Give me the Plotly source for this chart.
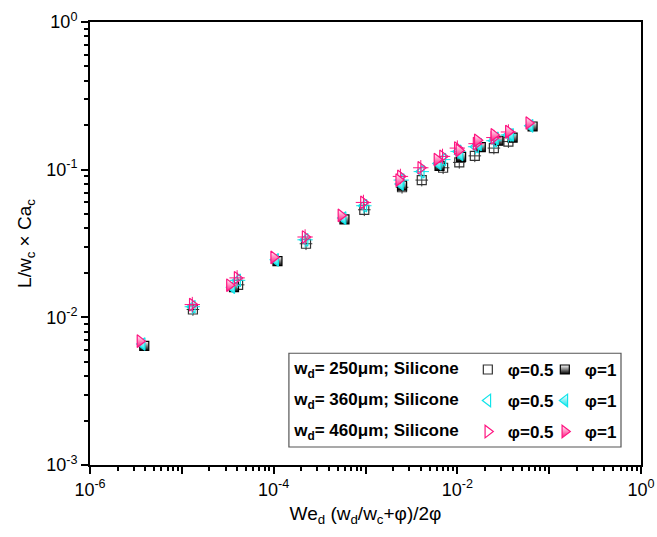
import numpy as np
import plotly.graph_objects as go

# ---------------- data ----------------
# phi = 1 series
x460_p1 = [3.5e-6, 3.3e-5, 1.0e-4, 5.4e-4, 2.3e-3, 6.0e-3, 1.04e-2, 1.65e-2, 2.5e-2, 3.6e-2, 6.0e-2]
y460_p1 = [6.9e-3, 1.65e-2, 2.55e-2, 4.9e-2, 8.5e-2, 0.117, 0.135, 0.158, 0.172, 0.181, 0.207]
x360_p1 = [3.7e-6, 3.5e-5, 1.05e-4, 5.7e-4, 2.4e-3, 6.2e-3, 1.07e-2, 1.7e-2, 2.6e-2, 3.8e-2, 6.2e-2]
y360_p1 = [6.6e-3, 1.6e-2, 2.45e-2, 4.7e-2, 8.0e-2, 0.110, 0.127, 0.148, 0.163, 0.172, 0.198]
x250_p1 = [3.9e-6, 3.7e-5, 1.1e-4, 5.9e-4, 2.5e-3, 6.4e-3, 1.1e-2, 1.8e-2, 2.8e-2, 4.0e-2, 6.6e-2]
y250_p1 = [6.4e-3, 1.6e-2, 2.4e-2, 4.6e-2, 7.8e-2, 0.106, 0.122, 0.142, 0.157, 0.165, 0.196]
# phi = 0.5 series
x460_p05 = [1.3e-5, 4.0e-5, 2.2e-4, 9.5e-4, 2.4e-3, 4.0e-3, 6.9e-3, 1.0e-2, 1.6e-2, 2.5e-2, 3.6e-2]
y460_p05 = [1.22e-2, 1.85e-2, 3.5e-2, 6.0e-2, 9.0e-2, 0.103, 0.123, 0.140, 0.150, 0.165, 0.180]
x360_p05 = [1.3e-5, 4.05e-5, 2.2e-4, 9.6e-4, 2.45e-3, 4.05e-3, 6.95e-3, 1.02e-2, 1.58e-2, 2.5e-2, 3.6e-2]
y360_p05 = [1.18e-2, 1.78e-2, 3.35e-2, 5.7e-2, 8.5e-2, 0.097, 0.117, 0.133, 0.143, 0.157, 0.172]
x250_p05 = [1.32e-5, 4.1e-5, 2.25e-4, 9.7e-4, 2.5e-3, 4.1e-3, 7.0e-3, 1.05e-2, 1.55e-2, 2.5e-2, 3.6e-2]
y250_p05 = [1.13e-2, 1.66e-2, 3.15e-2, 5.35e-2, 7.6e-2, 8.5e-2, 0.103, 0.112, 0.124, 0.140, 0.155]

x_tick_vals = [1e-6, 1e-5, 1e-4, 1e-3, 1e-2, 1e-1, 1e0]
x_tick_text = ["10<sup>-6</sup>", "", "10<sup>-4</sup>", "", "10<sup>-2</sup>", "", "10<sup>0</sup>"]
y_tick_vals = [1e-3, 1e-2, 1e-1, 1e0]
y_tick_text = ["10<sup>-3</sup>", "10<sup>-2</sup>", "10<sup>-1</sup>", "10<sup>0</sup>"]

legend_titles = ["w<sub>d</sub>= 250\u03bcm; Silicone",
                 "w<sub>d</sub>= 360\u03bcm; Silicone",
                 "w<sub>d</sub>= 460\u03bcm; Silicone"]
phi_labels = ["\u03c6=0.5", "\u03c6=1"]

CYAN = "#10E4EA"
MAG = "#FF1480"
FONT = "Arial, Liberation Sans, sans-serif"

fig = go.Figure()

def add_open(x, y, name, legend, symbol, color, size):
    fig.add_trace(go.Scatter(x=x, y=y, mode="markers", name=name, legend=legend,
                             marker=dict(symbol=symbol, size=size, color=color,
                                         line=dict(color=color, width=1.2))))
    fig.add_trace(go.Scatter(x=x, y=y, mode="markers", name=name, legend=legend,
                             showlegend=False,
                             marker=dict(symbol="cross-thin-open", size=size, color=color,
                                         line=dict(color=color, width=1))))

def add_half(x, y, name, legend, symbol, color, size):
    fig.add_trace(go.Scatter(x=x, y=y, mode="markers", name=name, legend=legend,
                             marker=dict(symbol=symbol, size=size, color="white",
                                         gradient=dict(type="vertical", color=color),
                                         line=dict(color=color, width=1.2))))

# 250 um
add_open(x250_p05, y250_p05, phi_labels[0], "legend", "square-open", "#333333", 9)
add_half(x250_p1, y250_p1, phi_labels[1], "legend", "square", "#000000", 9)
# 360 um
add_open(x360_p05, y360_p05, phi_labels[0], "legend2", "triangle-left-open", CYAN, 11)
add_half(x360_p1, y360_p1, phi_labels[1], "legend2", "triangle-left", CYAN, 11)
# 460 um
add_open(x460_p05, y460_p05, phi_labels[0], "legend3", "triangle-right-open", MAG, 11)
add_half(x460_p1, y460_p1, phi_labels[1], "legend3", "triangle-right", MAG, 11)

# minor ticks (2..9 per decade)
x_minor = [m * 10.0 ** k for k in range(-6, 0) for m in range(2, 10)]
y_minor = [m * 10.0 ** k for k in range(-3, 0) for m in range(2, 10)]

axis_common = dict(type="log", showline=True, linecolor="black", linewidth=2, mirror=True,
                   ticks="outside", ticklen=7, tickwidth=2, tickcolor="black",
                   showgrid=False, zeroline=False, automargin=False,
                   tickfont=dict(family=FONT, size=18, color="black"))

fig.update_xaxes(**axis_common, range=[-6, 0], tickmode="array",
                 tickvals=x_tick_vals, ticktext=x_tick_text,
                 minor=dict(tickmode="array", tickvals=x_minor, ticks="outside",
                            ticklen=4, tickwidth=1.5, tickcolor="black", showgrid=False),
                 title=dict(text="We<sub>d</sub> (w<sub>d</sub>/w<sub>c</sub>+\u03c6)/2\u03c6",
                            font=dict(family=FONT, size=19, color="black"), standoff=8))
fig.update_yaxes(**axis_common, range=[-3, 0], tickmode="array",
                 tickvals=y_tick_vals, ticktext=y_tick_text,
                 minor=dict(tickmode="array", tickvals=y_minor, ticks="outside",
                            ticklen=4, tickwidth=1.5, tickcolor="black", showgrid=False),
                 title=dict(text="L/w<sub>c</sub> \u00d7 Ca<sub>c</sub>",
                            font=dict(family=FONT, size=19, color="black"), standoff=10))

def leg(title, y):
    f = dict(family=FONT, size=17, color="black", weight="bold")
    return dict(title=dict(text=title, side="left", font=f),
                orientation="h", x=0.367, xanchor="left", y=y, yanchor="middle",
                font=f, bgcolor="rgba(0,0,0,0)", borderwidth=0, itemwidth=30,
                entrywidth=32, entrywidthmode="pixels")

fig.update_layout(
    width=657, height=537,
    margin=dict(l=90, r=16, t=22, b=72),
    plot_bgcolor="white", paper_bgcolor="white",
    legend=leg(legend_titles[0], 0.2146),
    legend2=leg(legend_titles[1], 0.1446),
    legend3=leg(legend_titles[2], 0.0746),
    shapes=[dict(type="rect", xref="paper", yref="paper", x0=0.361, x1=0.9637,
                 y0=0.0406, y1=0.2523, line=dict(color="#555555", width=1.2),
                 fillcolor="rgba(0,0,0,0)", layer="below")],
)

fig.write_html("out.html")
